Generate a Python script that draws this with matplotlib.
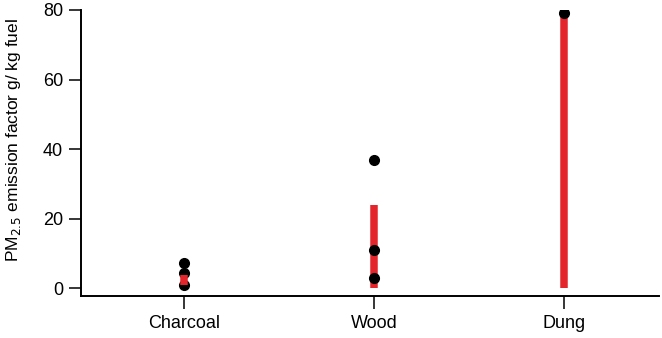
import matplotlib
matplotlib.use("Agg")
import matplotlib.pyplot as plt

plt.rcParams['font.family'] = ['Liberation Sans', 'DejaVu Sans']

categories = ["Charcoal", "Wood", "Dung"]
range_low = [0.8, 0.0, 0.0]
range_high = [3.6, 24.0, 78.0]
points = [[7.3, 4.3, 0.9], [36.8, 10.8, 2.8], [79.0]]
yticks = [0, 20, 40, 60, 80]

fig = plt.figure(figsize=(6.62, 3.38), dpi=100)
ax = fig.add_axes([81/662, 1-296/338, (659-81)/662, (296-10)/338])

red = "#e4252b"
for i, cat in enumerate(categories):
    bar_z = 4 if i == 0 else 2
    ax.vlines(i, range_low[i], range_high[i], color=red, lw=5.4, zorder=bar_z)
    ax.plot([i]*len(points[i]), points[i], 'o', color='black', ms=7, zorder=3)

ax.set_xlim(-0.542, 2.5)
ax.set_ylim(-2.3, 80)
ax.set_xticks(range(len(categories)))
ax.set_xticklabels(categories)
ax.set_yticks(yticks)
ax.spines['top'].set_visible(False)
ax.spines['right'].set_visible(False)
for s in ['left', 'bottom']:
    ax.spines[s].set_linewidth(1.4)
ax.tick_params(axis='both', length=9, width=1.1, labelsize=13, direction='out')
ax.tick_params(axis='y', pad=4)
ax.tick_params(axis='x', pad=5)
ax.set_ylabel("PM$_{2.5}$ emission factor g/ kg fuel", fontsize=12.5)
ax.yaxis.set_label_coords(-0.1, 0.545)

fig.savefig("out.png", dpi=100)
